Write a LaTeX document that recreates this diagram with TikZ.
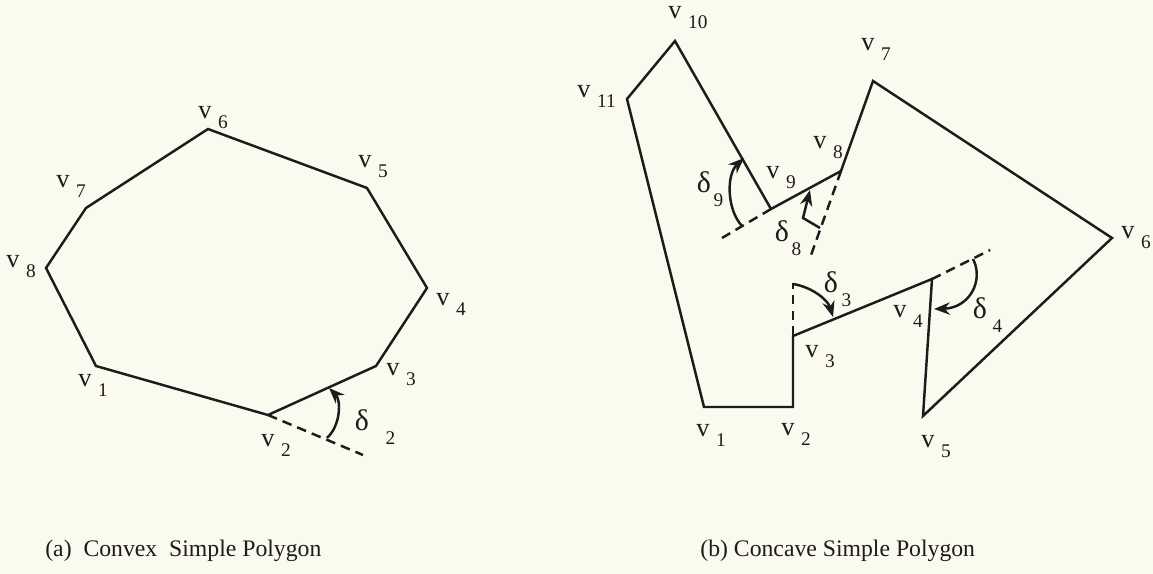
\documentclass[tikz,border=0pt]{standalone}
\usepackage{fontspec}
\setmainfont{Liberation Serif}
\usetikzlibrary{arrows.meta}
\definecolor{bg}{RGB}{251,250,238}
\definecolor{ink}{RGB}{30,27,28}
\newcommand\subsz{\fontsize{11}{13}\selectfont}
\newcommand\vsz{\fontsize{15}{17}\selectfont}
\newcommand\vlbl[1]{\vsz v\rlap{\kern3.7pt\smash{\raisebox{-5.5pt}{\subsz #1}}}}
\newcommand\dlbl[2]{\fontsize{17}{19}\selectfont δ\rlap{\kern#2\smash{\raisebox{-8.3pt}{\subsz #1}}}}
\tikzset{
  edge/.style={draw=ink, line width=1.4pt},
  ext/.style={draw=ink, line width=1.4pt, dash pattern=on 5.5pt off 3.5pt},
  ang/.style={draw=ink, line width=1.4pt, -{Stealth[length=9pt,width=7pt]}},
  lab/.style={inner sep=0pt, text=ink},
  captxt/.style={inner sep=0pt, text=ink, anchor=west, font=\fontsize{13.5}{16}\selectfont}
}
\begin{document}
\begin{tikzpicture}[x=0.02cm,y=-0.02cm]
\fill[bg] (0,0) rectangle (1153,574);
\useasboundingbox (0,0) rectangle (1153,574);
% ---------- (a) convex polygon ----------
\coordinate (a1) at (96,366);
\coordinate (a2) at (268,415);
\coordinate (a3) at (376,366);
\coordinate (a4) at (427,288);
\coordinate (a5) at (367,188);
\coordinate (a6) at (208,129);
\coordinate (a7) at (86,208);
\coordinate (a8) at (46,268);
\draw[edge] (a1)--(a2)--(a3)--(a4)--(a5)--(a6)--(a7)--(a8)--cycle;
\coordinate (a2e) at (363,455);
\draw[ext] (a2)--(a2e);
\coordinate (d2s) at (327,438);
\coordinate (d2e) at (329,388);
\draw[ang] (d2s) .. controls (341,425) and (341,400) .. (d2e);
\node[lab] (La1) at (85,381) {\vlbl{1}};
\node[lab] (La2) at (268,441) {\vlbl{2}};
\node[lab] (La3) at (393,370) {\vlbl{3}};
\node[lab] (La4) at (443,300) {\vlbl{4}};
\node[lab] (La5) at (365,162) {\vlbl{5}};
\node[lab] (La6) at (205,113) {\vlbl{6}};
\node[lab] (La7) at (63,182) {\vlbl{7}};
\node[lab] (La8) at (13,262) {\vlbl{8}};
\node[lab] (D2) at (362,420) {\dlbl{2}{9.4pt}};
% ---------- (b) concave polygon ----------
\coordinate (b1) at (704,407);
\coordinate (b2) at (793,407);
\coordinate (b3) at (793,336);
\coordinate (b4) at (932,279);
\coordinate (b5) at (923,416);
\coordinate (b6) at (1112,238);
\coordinate (b7) at (873,81);
\coordinate (b8) at (841,171);
\coordinate (b9) at (771,209);
\coordinate (b10) at (675,41);
\coordinate (b11) at (627,99);
\draw[edge] (b1)--(b2)--(b3)--(b4)--(b5)--(b6)--(b7)--(b8)--(b9)--(b10)--(b11)--cycle;
% extensions
\coordinate (b9e) at (722,238);
\coordinate (b8e) at (810,258);
\coordinate (b3e) at (793,283);
\coordinate (b4e) at (990,250);
\draw[ext] (b9)--(b9e);
\draw[ext] (b8)--(b8e);
\draw[ext] (b3)--(b3e);
\draw[ext] (b4)--(b4e);
% angle marks
\coordinate (d9s) at (742,226);
\coordinate (d9e) at (744,158);
\draw[ang] (d9s) .. controls (727,210) and (726,175) .. (d9e);
\coordinate (d8s) at (820,228);
\coordinate (d8m) at (803,218);
\coordinate (d8e) at (810,190);
\draw[ang] (d8s)--(d8m)--(d8e);
\coordinate (d3s) at (793,284);
\coordinate (d3e) at (833,317);
\draw[ang] (d3s) .. controls (812,287) and (828,300) .. (d3e);
\coordinate (d4s) at (973,259);
\coordinate (d4e) at (934,309);
\draw[ang] (d4s) .. controls (984,280) and (970,308) .. (d4e);
% labels
\node[lab] (Lb1) at (703,431) {\vlbl{1}};
\node[lab] (Lb2) at (788,430) {\vlbl{2}};
\node[lab] (Lb3) at (812,352) {\vlbl{3}};
\node[lab] (Lb4) at (900,312) {\vlbl{4}};
\node[lab] (Lb5) at (928,442) {\vlbl{5}};
\node[lab] (Lb6) at (1128,233) {\vlbl{6}};
\node[lab] (Lb7) at (868,45) {\vlbl{7}};
\node[lab] (Lb8) at (820,143) {\vlbl{8}};
\node[lab] (Lb9) at (773,173) {\vlbl{9}};
\node[lab] (Lb10) at (675,13) {\vlbl{10}};
\node[lab] (Lb11) at (584,92) {\vlbl{11}};
\node[lab] (D3) at (831,282) {\dlbl{3}{2pt}};
\node[lab] (D4) at (980,308) {\dlbl{4}{3.2pt}};
\node[lab] (D8) at (782,231) {\dlbl{8}{1.5pt}};
\node[lab] (D9) at (704,182) {\dlbl{9}{1.5pt}};
% captions
\node[captxt] (capa) at (45,551) {(a)~~Convex~~Simple Polygon};
\node[captxt] (capb) at (700,551) {(b) Concave Simple Polygon};
\end{tikzpicture}
\end{document}
